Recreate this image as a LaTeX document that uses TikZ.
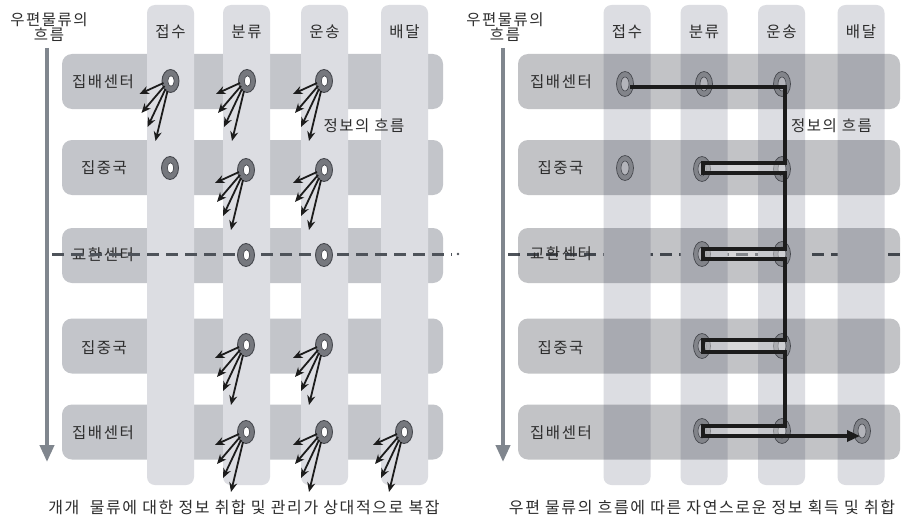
\documentclass[tikz,border=0pt]{standalone}
\usepackage{fontspec}
\setmainfont{Noto Sans CJK KR}[LetterSpace=10]
\usetikzlibrary{arrows.meta,calc,shapes.geometric}
\definecolor{colbg}{RGB}{220,221,226}
\definecolor{rowbg}{RGB}{195,197,202}
\definecolor{rowdark}{RGB}{30,35,45}
\definecolor{txt}{RGB}{45,45,45}
\definecolor{ringfill}{RGB}{118,120,126}
\definecolor{ringdraw}{RGB}{70,72,78}
\definecolor{darkline}{RGB}{28,28,28}
\definecolor{axiscol}{RGB}{128,134,142}
\definecolor{dashcol}{RGB}{78,83,90}
\tikzset{
  colbox/.style={draw=none, fill=colbg, rounded corners=8pt, minimum width=47pt, minimum height=480pt, inner sep=0pt},
  rowboxL/.style={draw=none, fill=rowbg, rounded corners=10pt, minimum width=381pt, minimum height=55pt, inner sep=0pt},
  rowboxR/.style={draw=none, fill=rowdark, fill opacity=0.27, rounded corners=10pt, minimum width=382pt, minimum height=55pt, inner sep=0pt},
  lbl/.style={text=txt, font=\fontsize{15.5}{18}\selectfont, inner sep=0pt},
  captext/.style={text=txt, font=\fontsize{16}{19}\selectfont, inner sep=0pt},
  ringL/.style={ellipse, draw=ringdraw, fill=ringfill, line width=0.9pt, minimum width=17pt, minimum height=23pt, inner sep=0pt,
    path picture={\filldraw[fill=white,draw=ringdraw,line width=0.7pt] ([xshift=0.5pt]path picture bounding box.center) ellipse [x radius=3.2pt, y radius=5.3pt];}},
  ringR/.style={ellipse, draw=ringdraw, fill=ringfill, fill opacity=0.75, line width=0.7pt, minimum width=17pt, minimum height=25pt, inner sep=0pt,
    path picture={\filldraw[fill=colbg,fill opacity=0.55,draw=ringdraw,line width=0.6pt] (path picture bounding box.center) ellipse [x radius=4pt, y radius=7pt];}},
  info/.style={draw=darkline, line width=1.8pt, -{Stealth[length=9.5pt,width=8pt]}},
  axisline/.style={draw=axiscol, line width=4pt, -{Triangle[width=14pt,length=17pt]}},
  dashline/.style={draw=dashcol, line width=3pt, dash pattern=on 12pt off 7pt},
  flow/.style={draw=darkline, line width=3.8pt, line join=miter, -{Triangle[length=13pt,width=11pt]}},
}
\begin{document}
\begin{tikzpicture}[x=1pt,y=-1pt]
\useasboundingbox (0,0) rectangle (907,519);
\fill[white] (0,0) rectangle (907,519);

%%%%%%%%%%%%%%%% LEFT PANEL %%%%%%%%%%%%%%%%
\node[rowboxL] (Lrow1) at (252.5,81.5) {};
\node[rowboxL] (Lrow2) at (252.5,167.5) {};
\node[rowboxL] (Lrow3) at (252.5,255.5) {};
\node[rowboxL] (Lrow4) at (252.5,346) {};
\node[rowboxL] (Lrow5) at (252.5,432) {};
\node[colbox] (Lcol1) at (170.5,245) {};
\node[colbox] (Lcol2) at (246.5,245) {};
\node[colbox] (Lcol3) at (324.5,245) {};
\node[colbox] (Lcol4) at (404.5,245) {};

\node[lbl] (Lh1) at (170.5,32) {접수};
\node[lbl] (Lh2) at (246.5,32) {분류};
\node[lbl] (Lh3) at (324.5,32) {운송};
\node[lbl] (Lh4) at (404.5,32) {배달};

\node[lbl] (Ll1) at (103,82) {집배센터};
\node[lbl] (Ll2) at (104,168) {집중국};
\node[lbl] (Ll3) at (103,255) {교환센터};
\node[lbl] (Ll4) at (104,348) {집중국};
\node[lbl] (Ll5) at (103,433) {집배센터};

\node[lbl, align=center] (Ltitle) at (49,27) {우편물류의\\[-3pt]흐름};
\coordinate (Lax1) at (47,48);
\coordinate (Lax2) at (47,462);
\draw[axisline] (Lax1) -- (Lax2);

\coordinate (Ld1) at (52,254);
\coordinate (Ld2) at (452,254);
\draw[dashline] (Ld1) -- (Ld2);
\fill[dashcol] (458,254) circle (1.4pt);

\node[ringL] (La11) at (170.5,81) {};
\node[ringL] (La12) at (247,81) {};
\node[ringL] (La13) at (324,81) {};
\node[ringL] (La21) at (170,168) {};
\node[ringL] (La22) at (246,170) {};
\node[ringL] (La23) at (324,170) {};
\node[ringL] (La32) at (246,255) {};
\node[ringL] (La33) at (324,255) {};
\node[ringL] (La42) at (246,345) {};
\node[ringL] (La43) at (324,345) {};
\node[ringL] (La52) at (246,432) {};
\node[ringL] (La53) at (324,432) {};
\node[ringL] (La54) at (404,432) {};

\foreach \n in {La11,La12,La13,La22,La23,La42,La43,La52,La53,La54}{
  \draw[info] ($(\n)+(-7,2)$) -- ($(\n)+(-31,13)$);
  \draw[info] ($(\n)+(-6,5)$) -- ($(\n)+(-29,32)$);
  \draw[info] ($(\n)+(-5,8)$) -- ($(\n)+(-23,46)$);
  \draw[info] ($(\n)+(-3,10)$) -- ($(\n)+(-15,60)$);
}

\node[lbl] (Linfo) at (364,126) {정보의 흐름};
\node[captext] (Lcap) at (244,507) {개개\ \ 물류에 대한 정보 취합 및 관리가 상대적으로 복잡};

%%%%%%%%%%%%%%%% RIGHT PANEL %%%%%%%%%%%%%%%%
\coordinate (Rd1) at (508,254);
\coordinate (Rd2) at (903,254);
\draw[dashline] (Rd1) -- (Rd2);

\node[colbox] (Rcol1) at (627,245) {};
\node[colbox] (Rcol2) at (704,245) {};
\node[colbox] (Rcol3) at (781.5,245) {};
\node[colbox] (Rcol4) at (861,245) {};
\node[rowboxR] (Rrow1) at (709,81.5) {};
\node[rowboxR] (Rrow2) at (709,167.5) {};
\node[rowboxR] (Rrow3) at (709,255.5) {};
\node[rowboxR] (Rrow4) at (709,346) {};
\node[rowboxR] (Rrow5) at (709,432) {};

\node[lbl] (Rh1) at (627,32) {접수};
\node[lbl] (Rh2) at (704,32) {분류};
\node[lbl] (Rh3) at (781.5,32) {운송};
\node[lbl] (Rh4) at (861,32) {배달};

\node[lbl] (Rl1) at (561,82) {집배센터};
\node[lbl] (Rl2) at (560.5,168) {집중국};
\node[lbl] (Rl3) at (561,254) {교환센터};
\node[lbl] (Rl4) at (560.5,348) {집중국};
\node[lbl] (Rl5) at (561,433) {집배센터};

\node[lbl, align=center] (Rtitle) at (505,27) {우편물류의\\[-3pt]흐름};
\coordinate (Rax1) at (503,48);
\coordinate (Rax2) at (503,462);
\draw[axisline] (Rax1) -- (Rax2);

\node[ringR] (R11) at (625,84) {};
\node[ringR] (R12) at (704,84) {};
\node[ringR] (R13) at (782,84) {};
\node[ringR] (R21) at (625,168) {};
\node[ringR] (R22) at (702,169) {};
\node[ringR] (R23) at (782,169) {};
\node[ringR] (R32) at (702,254) {};
\node[ringR] (R33) at (782,254) {};
\node[ringR] (R42) at (702,346) {};
\node[ringR] (R43) at (782,346) {};
\node[ringR] (R52) at (702,431) {};
\node[ringR] (R53) at (782,431) {};
\node[ringR] (R54) at (862,431) {};

\fill[white, fill opacity=0.35] (703,163) rectangle (785,173);
\fill[white, fill opacity=0.35] (703,249) rectangle (785,259);
\fill[white, fill opacity=0.35] (703,340) rectangle (785,352);
\fill[white, fill opacity=0.35] (703,426) rectangle (785,436);

\draw[flow] ($(R11)+(5,3)$) -- (785,87) -- (785,163) -- (703,163) -- (703,173) -- (785,173)
  -- (785,249) -- (703,249) -- (703,259) -- (785,259)
  -- (785,340) -- (703,340) -- (703,352) -- (785,352)
  -- (785,426) -- (703,426) -- (703,436) -- ($(R54)+(-2,5)$);

\node[lbl] (Rinfo) at (831.5,126) {정보의 흐름};
\node[captext] (Rcap) at (702,507) {우편 물류의 흐름에 따른 자연스로운 정보 획득 및 취합};
\end{tikzpicture}
\end{document}
